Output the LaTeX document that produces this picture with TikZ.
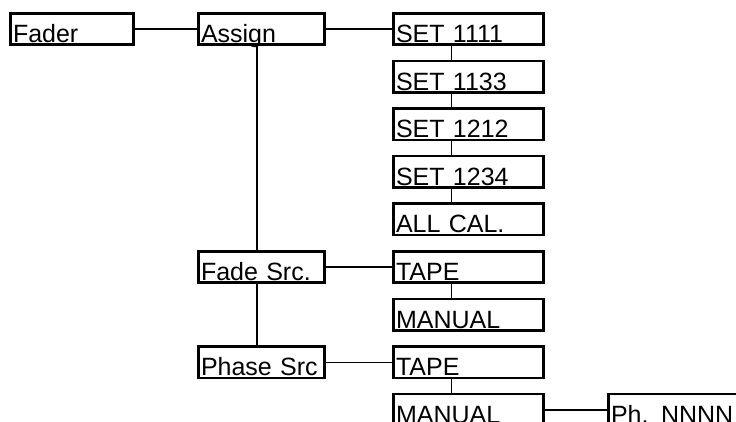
\documentclass[tikz,border=0pt]{standalone}
\usepackage{fontspec}
\setmainfont{Liberation Sans}
\usetikzlibrary{positioning, calc}

\begin{document}
\begin{tikzpicture}[x=1bp, y=-1bp,
        menu/.style={draw, rectangle, line width=2.6bp, outer sep=0pt, inner xsep=2.75bp, inner ysep=0pt, text height=29.25bp, text depth=2.25bp, align=left, anchor=north west, font=\fontsize{25bp}{28bp}\selectfont},
        wide/.style={menu, text width=145bp},
        mid/.style={menu, text width=121bp},
        link/.style={line width=1.4bp}
    ]
        \useasboundingbox (0,0) rectangle (736,421);
        \clip (0,0) rectangle (736,421);

        % Top level
        \node[menu, text width=118bp] (fader) at (10.25, 13.25) {Fader};
        \node[mid, right=64.5bp of fader] (assign) {Assign};

        % Assign choices
        \node[wide, right=68.5bp of assign] (s1) {SET 1111};
        \node[wide, below=16.1bp of s1] (s2) {SET 1133};
        \node[wide, below=16.1bp of s2] (s3) {SET 1212};
        \node[wide, below=16.1bp of s3] (s4) {SET 1234};
        \node[wide, below=16.1bp of s4] (s5) {ALL CAL.};

        % Fade source
        \node[wide, below=16.1bp of s5] (t1) {TAPE};
        \node[wide, below=16.1bp of t1] (m1) {MANUAL};
        \node[mid, left=68.5bp of t1] (fade) {Fade Src.};

        % Phase source
        \node[wide, below=16.1bp of m1] (t2) {TAPE};
        \node[wide, below=16.1bp of t2] (m2) {MANUAL};
        \node[mid, left=68.5bp of t2] (phase) {Phase Src};
        \node[wide, right=64.5bp of m2] (ph) {Ph. NNNN};

        % Links
        \draw[link] (fader.east) -- (assign.west);
        \draw[link] (assign.east) -- (s1.west);
        \draw[link] (fade.east) -- (t1.west);
        \draw[link] (phase.east) -- (t2.west);
        \draw[link] (m2.east) -- (ph.west);
        \draw[link] ([xshift=58.75bp]assign.south west) -- ([xshift=58.75bp]fade.north west);
        \draw[link] ([xshift=58.75bp]fade.south west) -- ([xshift=58.75bp]phase.north west);
        \draw[link] ([xshift=58bp]s1.south west) -- ([xshift=58bp]s2.north west);
        \draw[link] ([xshift=58bp]s2.south west) -- ([xshift=58bp]s3.north west);
        \draw[link] ([xshift=58bp]s3.south west) -- ([xshift=58bp]s4.north west);
        \draw[link] ([xshift=58bp]s4.south west) -- ([xshift=58bp]s5.north west);
        \draw[link] ([xshift=58bp]t1.south west) -- ([xshift=58bp]m1.north west);
        \draw[link] ([xshift=58bp]t2.south west) -- ([xshift=58bp]m2.north west);

    \end{tikzpicture}
\end{document}
